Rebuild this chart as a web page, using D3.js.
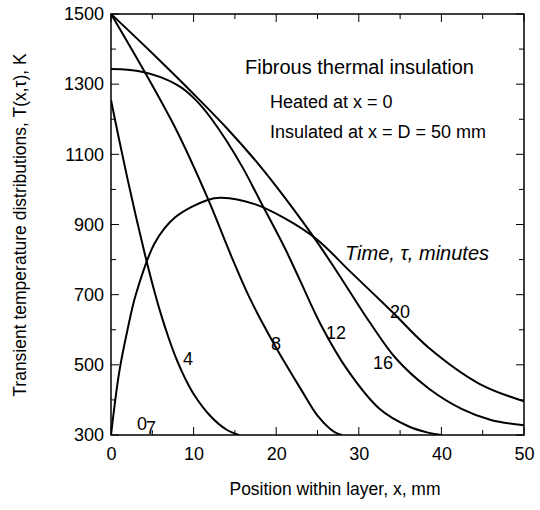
<!DOCTYPE html>
<html><head><meta charset="utf-8">
<script src="https://cdn.jsdelivr.net/npm/d3@7"></script>
<style>body{margin:0;background:#fff}svg text{font-family:"Liberation Sans",Arial,sans-serif;fill:#000}</style>
</head><body><svg id="c" width="540" height="510"></svg>
<script>
const xTicks=[0,10,20,30,40,50];
const yTicks=[300,500,700,900,1100,1300,1500];
const t4=[[0,1255],[1,1140],[2,1030],[3,925],[4,825],[5,732],[6,648],[7,575],[8,512],[9,460],[10,417],[12,355],[14,315],[15.5,300]];
const t8=[[0,1500],[4,1338],[8,1165],[11.7,975],[14.6,808],[16.8,690],[19.6,565],[21,508],[23,430],[25,355],[26.5,318],[27.5,303],[28,300]];
const t12=[[0,1343],[2,1341],[4,1334],[6,1320],[8,1298],[9,1282],[10,1261],[11,1236],[12.2,1200],[14,1138],[16,1060],[18,970],[21,835],[22.8,745],[25.5,610],[28.5,490],[32.5,375],[36,325],[38.5,306],[40,300]];
const t16=[[0,1500],[5,1388],[10,1272],[14,1175],[18,1068],[21,978],[24.9,852],[28,742],[31.3,622],[34.5,518],[38.5,432],[42.5,374],[46,343],[50,328]];
const t20=[[0,300],[1,480],[2,600],[3,700],[5.3,847],[7.7,919],[11.7,970],[13.4,976],[17.4,958],[21,918],[24.9,858],[29,765],[34,652],[38.5,548],[44.6,446],[50,396]];
const svg=d3.select("#c");
const x=d3.scaleLinear().domain([0,50]).range([111,524]);
const y=d3.scaleLinear().domain([300,1500]).range([435,14]);
svg.append("clipPath").attr("id","cp").append("rect").attr("x",111).attr("y",14).attr("width",413).attr("height",421);
svg.append("rect").attr("x",111).attr("y",14).attr("width",413).attr("height",421).attr("fill","none").attr("stroke","#000").attr("stroke-width",1.5);
const ax=g=>g.attr("font-size",18).attr("font-family","Liberation Sans, Arial, sans-serif");
svg.append("g").attr("transform","translate(0,435)").call(d3.axisBottom(x).tickValues(xTicks).tickFormat(d3.format("d")).tickSize(0).tickPadding(12)).call(g=>g.select(".domain").remove()).call(ax);
svg.append("g").attr("transform","translate(111,0)").call(d3.axisLeft(y).tickValues(yTicks).tickFormat(d3.format("d")).tickSize(0).tickPadding(7)).call(g=>g.select(".domain").remove()).call(ax);
const minorX=d3.range(0,51,5), minorY=d3.range(300,1501,100);
svg.append("g").selectAll("line").data(minorX).join("line").attr("x1",d=>x(d)).attr("x2",d=>x(d)).attr("y1",435).attr("y2",d=>435-(d%10===0?8:5)).attr("stroke","#000");
svg.append("g").selectAll("line").data(minorX).join("line").attr("x1",d=>x(d)).attr("x2",d=>x(d)).attr("y1",14).attr("y2",d=>14+(d%10===0?8:5)).attr("stroke","#000");
svg.append("g").selectAll("line").data(minorY).join("line").attr("y1",d=>y(d)).attr("y2",d=>y(d)).attr("x1",111).attr("x2",d=>111+((d-300)%200===0?8:5)).attr("stroke","#000");
svg.append("g").selectAll("line").data(minorY).join("line").attr("y1",d=>y(d)).attr("y2",d=>y(d)).attr("x1",524).attr("x2",d=>524-((d-300)%200===0?8:5)).attr("stroke","#000");
const line=d3.line().x(d=>x(d[0])).y(d=>y(d[1])).curve(d3.curveCatmullRom.alpha(0.5));
const pg=svg.append("g").attr("clip-path","url(#cp)");
[t4,t8,t12,t16,t20].forEach(s=>pg.append("path").attr("d",line(s)).attr("fill","none").attr("stroke","#000").attr("stroke-width",2));
const t=(tx,px,py,o={})=>svg.append("text").attr("x",px).attr("y",py).attr("font-size",o.fs||18).attr("text-anchor",o.a||"start").attr("font-style",o.it?"italic":null).text(tx);
t("Fibrous thermal insulation",245,74,{fs:20});
t("Heated at x = 0",270,108);
t("Insulated at x = D = 50 mm",270,138);
t("Time, τ, minutes",345,260,{fs:20,it:1});
t("20",390,318);t("16",373,369);t("12",326,339);t("8",271,350);t("4",183,365);t("0",137,430);t("7",146,434);
t("Position within layer, x, mm",335,495,{a:"middle",fs:17.5});
svg.append("text").attr("transform","translate(26,225) rotate(-90)").attr("text-anchor","middle").attr("font-size",17.5).text("Transient temperature distributions, T(x,τ), K");
</script></body></html>
